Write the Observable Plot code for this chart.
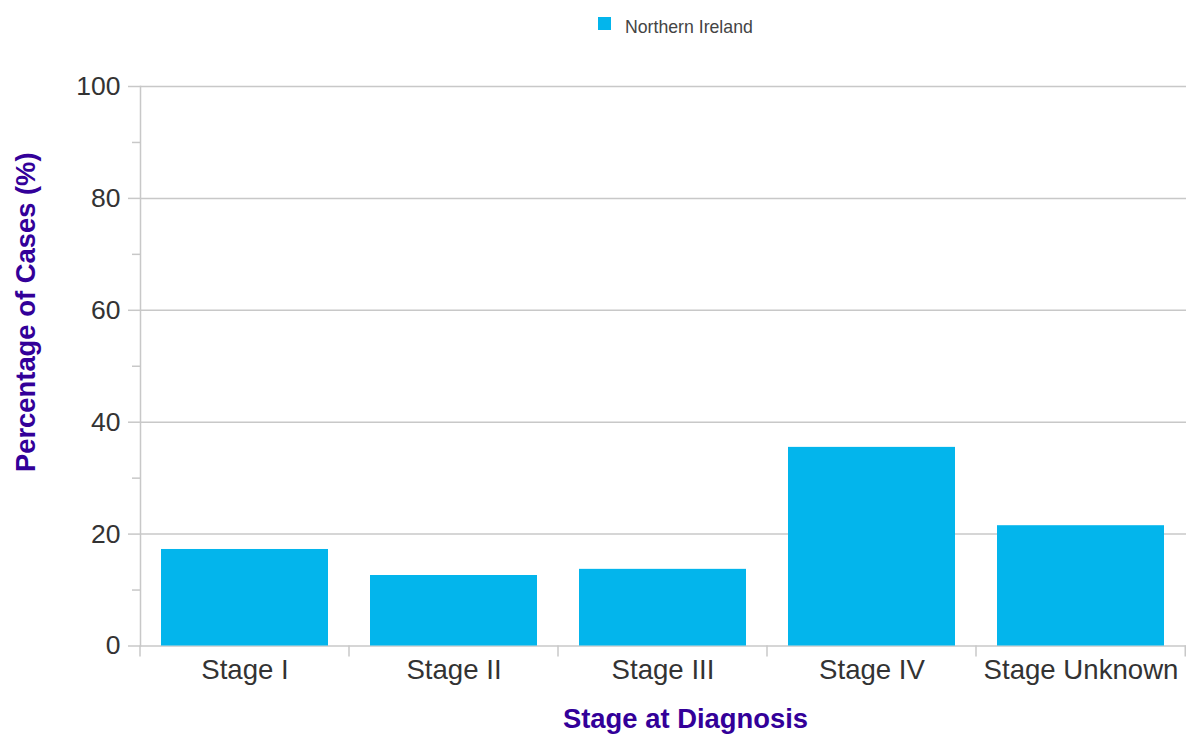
<!DOCTYPE html>
<html>
<head>
<meta charset="utf-8">
<script src="https://cdn.jsdelivr.net/npm/d3@7"></script>
<script src="https://cdn.jsdelivr.net/npm/@observablehq/plot@0.6"></script>
<style>
  html, body { margin: 0; padding: 0; background: #fff; }
  body { width: 1186px; height: 735px; overflow: hidden; font-family: "Liberation Sans", Arial, sans-serif; }
  #legend { position: relative; height: 50px; }
  #legend .sw { position: absolute; left: 598px; top: 17px; width: 13px; height: 13px; background: #03b5ec; }
  #legend .lb { position: absolute; left: 625px; top: 19px; font-size: 17.7px; line-height: 1; color: #444; }
  svg { display: block; }
</style>
</head>
<body>
<div id="legend"><span class="sw"></span><span class="lb">Northern Ireland</span></div>
<div id="chart"></div>
<script>
const stages = ["Stage I", "Stage II", "Stage III", "Stage IV", "Stage Unknown"];
const northernIreland = [17.25, 12.6, 13.7, 35.5, 21.5];
const majorTicks = [0, 20, 40, 60, 80, 100];
const minorTicks = [10, 30, 50, 70, 90];
const xTitle = "Stage at Diagnosis";
const yTitle = "Percentage of Cases (%)";

const data = stages.map((s, i) => ({stage: s, value: northernIreland[i]}));
const gray = "#c8c8c8";
const indigo = "#330099";

// tick marks at band boundaries, derived from the x band scale
function bandBoundaryTicks(index, scales, values, dims) {
  const x = scales.x;
  const y = scales.y;
  const offset = x(stages[0]) - dims.marginLeft;
  const xs = stages.map(s => x(s) - offset);
  xs.push(dims.width - dims.marginRight - 0.75);
  const g = d3.create("svg:g");
  const y0 = y(0);
  g.selectAll("line").data(xs).join("line")
    .attr("x1", d => d).attr("x2", d => d)
    .attr("y1", y0).attr("y2", y0 + 11)
    .attr("stroke", gray).attr("stroke-width", 1.5);
  return g.node();
}

const chart = Plot.plot({
  width: 1186,
  height: 685,
  marginTop: 36,
  marginBottom: 89.5,
  marginLeft: 140,
  marginRight: 0,
  style: {fontFamily: "'Liberation Sans', Arial, sans-serif", background: "#fff", overflow: "visible"},
  x: {domain: stages, paddingInner: 0.2, paddingOuter: 0.1, label: null},
  y: {domain: [0, 100], label: null},
  marks: [
    Plot.gridY(majorTicks, {stroke: gray, strokeOpacity: 1, strokeWidth: 1.5}),
    Plot.frame({anchor: "left", stroke: gray, strokeWidth: 1.5}),
    Plot.barY(data, {x: "stage", y: "value", fill: "#03b5ec"}),
    Plot.axisY(majorTicks, {tickSize: 12, tickPadding: 8, stroke: gray, strokeWidth: 1.5, fill: "#333", fontSize: 26.5, label: null}),
    Plot.axisY(minorTicks, {tickSize: 8, text: null, stroke: gray, strokeWidth: 1.5, label: null}),
    Plot.axisX({tickSize: 0, tickPadding: 13, fill: "#333", fontSize: 27.6, label: null}),
    bandBoundaryTicks,
    Plot.text([xTitle], {frameAnchor: "bottom", text: d => d, dx: 22, dy: 81.5, lineAnchor: "bottom", textAnchor: "middle", fontSize: 27.4, fontWeight: "bold", fill: indigo}),
    Plot.text([yTitle], {frameAnchor: "left", text: d => d, rotate: -90, dx: -114, dy: -54, lineAnchor: "middle", textAnchor: "middle", fontSize: 27.4, fontWeight: "bold", fill: indigo})
  ]
});
document.getElementById("chart").appendChild(chart);
</script>
</body>
</html>
